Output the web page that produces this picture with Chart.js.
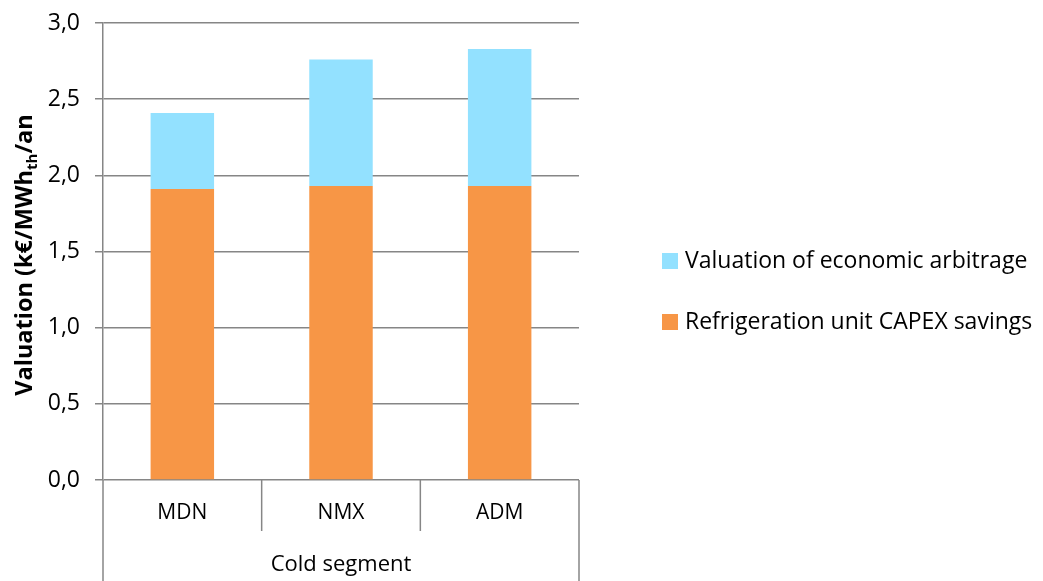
<!DOCTYPE html>
<html>
<head>
<meta charset="utf-8">
<script src="https://cdn.jsdelivr.net/npm/chart.js@4/dist/chart.umd.min.js"></script>
<style>
  html, body { margin: 0; padding: 0; background: #ffffff; }
  #wrap { width: 1043px; height: 581px; }
</style>
</head>
<body>
<div id="wrap"><canvas id="chart" width="1043" height="581"></canvas></div>
<script>
// Cold segment categories
const segments = ['MDN', 'NMX', 'ADM'];
const groupLabel = 'Cold segment';

// Stacked components (k€/MWh_th/an)
const capexSavings = [1.91, 1.93, 1.93];
const arbitrageValue = [0.50, 0.83, 0.90];

const seriesNames = ['Refrigeration unit CAPEX savings', 'Valuation of economic arbitrage'];
const seriesColors = ['#F79646', '#93E1FF'];

// Y axis ticks
const yMin = 0, yMax = 3, yStep = 0.5;

const FONT = '"Open Sans", Lato, sans-serif';
const AXIS_GREY = '#868686';

// Two-level category axis: separators between segments plus the outer frame
const categoryFrame = {
  id: 'categoryFrame',
  afterDraw(chart) {
    const xs = chart.scales.x;
    const ctx = chart.ctx;
    const area = chart.chartArea;
    const n = chart.data.labels.length;
    const half = (xs.getPixelForValue(1) - xs.getPixelForValue(0)) / 2;
    ctx.save();
    ctx.strokeStyle = AXIS_GREY;
    ctx.lineWidth = 1.5;
    for (let i = 0; i <= n; i++) {
      const px = xs.getPixelForValue(i) - half;
      const outer = (i === 0 || i === n);
      ctx.beginPath();
      ctx.moveTo(px, area.bottom);
      ctx.lineTo(px, outer ? chart.height : area.bottom + 51);
      ctx.stroke();
    }
    ctx.restore();
  }
};

// Rotated y title with a subscript
const yTitle = {
  id: 'yTitle',
  afterDraw(chart) {
    const ctx = chart.ctx;
    const parts = [
      { t: 'Valuation (k€/MWh', size: 23.5, dy: 0 },
      { t: 'th', size: 15, dy: 5 },
      { t: '/an', size: 23.5, dy: 0 }
    ];
    ctx.save();
    ctx.fillStyle = '#000000';
    ctx.textBaseline = 'alphabetic';
    ctx.textAlign = 'left';
    let total = 0;
    parts.forEach(p => { ctx.font = 'bold ' + p.size + 'px ' + FONT; p.w = ctx.measureText(p.t).width; total += p.w; });
    ctx.translate(32, 255);
    ctx.rotate(-Math.PI / 2);
    let x = -total / 2;
    parts.forEach(p => {
      ctx.font = 'bold ' + p.size + 'px ' + FONT;
      ctx.fillText(p.t, x, p.dy);
      x += p.w;
    });
    ctx.restore();
  }
};

// Legend on the right, listed top series first
const sideLegend = {
  id: 'sideLegend',
  afterDraw(chart) {
    const ctx = chart.ctx;
    const ds = chart.data.datasets.slice().reverse();
    ctx.save();
    ctx.font = '23px ' + FONT;
    ctx.textBaseline = 'middle';
    ctx.textAlign = 'left';
    ds.forEach((d, i) => {
      const cy = 261 + i * 61;
      ctx.fillStyle = d.backgroundColor;
      ctx.fillRect(662, cy - 8, 16, 16);
      ctx.fillStyle = '#000000';
      ctx.fillText(d.label, 685, cy);
    });
    ctx.restore();
  }
};

new Chart(document.getElementById('chart'), {
  type: 'bar',
  data: {
    labels: segments,
    datasets: [
      { label: seriesNames[0], data: capexSavings, backgroundColor: seriesColors[0] },
      { label: seriesNames[1], data: arbitrageValue, backgroundColor: seriesColors[1] }
    ]
  },
  options: {
    responsive: false,
    animation: false,
    layout: { padding: { top: 23, right: 464, bottom: 0, left: 0 } },
    datasets: { bar: { barPercentage: 0.4, categoryPercentage: 1.0 } },
    plugins: {
      legend: { display: false },
      tooltip: { enabled: false }
    },
    scales: {
      x: {
        stacked: true,
        grid: { display: false, drawTicks: false },
        border: { display: false },
        ticks: { color: '#000000', font: { family: FONT, size: 21 }, padding: 20 },
        title: { display: true, text: groupLabel, color: '#000000', font: { family: FONT, size: 22 }, padding: { top: 0, bottom: 3 } },
        afterFit(scale) { scale.height = 101; }
      },
      y: {
        stacked: true,
        min: yMin,
        max: yMax,
        ticks: {
          stepSize: yStep,
          color: '#000000',
          font: { family: FONT, size: 23 },
          padding: 15,
          callback: v => v.toFixed(1).replace('.', ',')
        },
        grid: { color: AXIS_GREY, lineWidth: 1.5, tickLength: 8, tickColor: AXIS_GREY },
        border: { display: true, color: AXIS_GREY, width: 1.5 },
        afterFit(scale) { scale.width = 103; scale.paddingTop = 0; scale.paddingBottom = 0; }
      }
    }
  },
  plugins: [categoryFrame, yTitle, sideLegend]
});
</script>
</body>
</html>
